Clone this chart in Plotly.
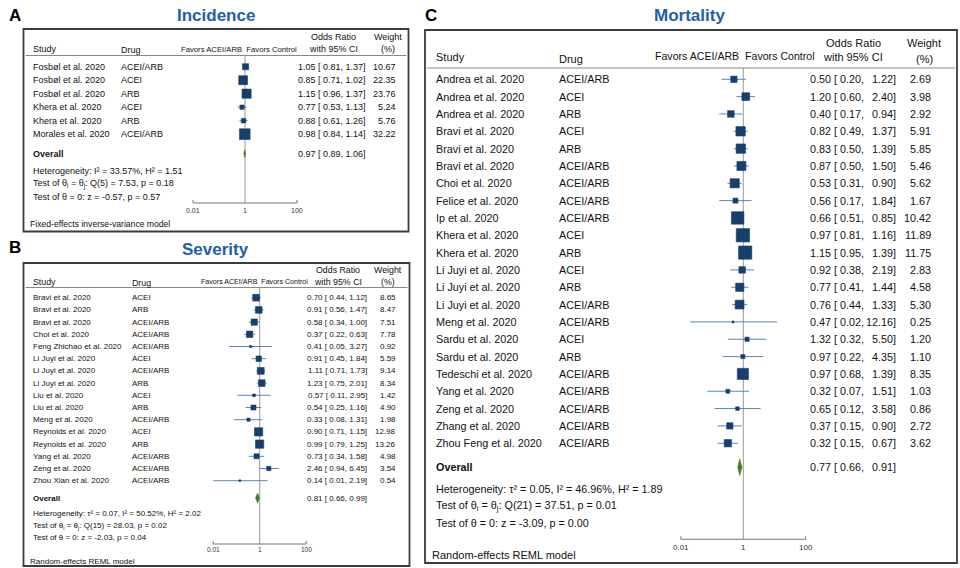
import plotly.graph_objects as go
import math

W, H = 960, 568
FONT = "Liberation Sans, Arial, Helvetica, sans-serif"

# ---------------- Data ----------------
# Panel A: Incidence
inc_study = ["Fosbøl et al. 2020", "Fosbøl et al. 2020", "Fosbøl et al. 2020",
             "Khera et al. 2020", "Khera et al. 2020", "Morales et al. 2020"]
inc_drug = ["ACEI/ARB", "ACEI", "ARB", "ACEI", "ARB", "ACEI/ARB"]
inc_or = [1.05, 0.85, 1.15, 0.77, 0.88, 0.98]
inc_lo = [0.81, 0.71, 0.96, 0.53, 0.61, 0.84]
inc_hi = [1.37, 1.02, 1.37, 1.13, 1.26, 1.14]
inc_w = [10.67, 22.35, 23.76, 5.24, 5.76, 32.22]
inc_overall = [0.97, 0.89, 1.06]
inc_stats = ["Heterogeneity: I² = 33.57%, H² = 1.51",
             "Test of θ<sub>i</sub> = θ<sub>j</sub>: Q(5) = 7.53, p = 0.18",
             "Test of θ = 0: z = -0.57, p = 0.57"]
inc_model = "Fixed-effects inverse-variance model"

# Panel B: Severity
sev_study = ["Bravi et al. 2020", "Bravi et al. 2020", "Bravi et al. 2020", "Choi et al. 2020",
             "Feng Zhichao et al. 2020", "Li Juyi et al. 2020", "Li Juyi et al. 2020",
             "Li Juyi et al. 2020", "Liu et al. 2020", "Liu et al. 2020", "Meng et al. 2020",
             "Reynolds et al. 2020", "Reynolds et al. 2020", "Yang et al. 2020",
             "Zeng et al. 2020", "Zhou Xian et al. 2020"]
sev_drug = ["ACEI", "ARB", "ACEI/ARB", "ACEI/ARB", "ACEI/ARB", "ACEI", "ACEI/ARB", "ARB",
            "ACEI", "ARB", "ACEI/ARB", "ACEI", "ARB", "ACEI/ARB", "ACEI/ARB", "ACEI/ARB"]
sev_or = [0.70, 0.91, 0.58, 0.37, 0.41, 0.91, 1.11, 1.23, 0.57, 0.54, 0.33, 0.90, 0.99, 0.73, 2.46, 0.14]
sev_lo = [0.44, 0.56, 0.34, 0.22, 0.05, 0.45, 0.71, 0.75, 0.11, 0.25, 0.08, 0.71, 0.79, 0.34, 0.94, 0.01]
sev_hi = [1.12, 1.47, 1.00, 0.63, 3.27, 1.84, 1.73, 2.01, 2.95, 1.16, 1.31, 1.15, 1.25, 1.58, 6.45, 2.19]
sev_w = [8.65, 8.47, 7.51, 7.78, 0.92, 5.59, 9.14, 8.34, 1.42, 4.90, 1.98, 12.98, 13.26, 4.98, 3.54, 0.54]
sev_overall = [0.81, 0.66, 0.99]
sev_stats = ["Heterogeneity: τ² = 0.07, I² = 50.52%, H² = 2.02",
             "Test of θ<sub>i</sub> = θ<sub>j</sub>: Q(15) = 28.03, p = 0.02",
             "Test of θ = 0: z = -2.03, p = 0.04"]
sev_model = "Random-effects REML model"

# Panel C: Mortality
mor_study = ["Andrea et al. 2020", "Andrea et al. 2020", "Andrea et al. 2020", "Bravi et al. 2020",
             "Bravi et al. 2020", "Bravi et al. 2020", "Choi et al. 2020", "Felice et al. 2020",
             "Ip et al. 2020", "Khera et al. 2020", "Khera et al. 2020", "Li Juyi et al. 2020",
             "Li Juyi et al. 2020", "Li Juyi et al. 2020", "Meng et al. 2020", "Sardu et al. 2020",
             "Sardu et al. 2020", "Tedeschi et al. 2020", "Yang et al. 2020", "Zeng et al. 2020",
             "Zhang et al. 2020", "Zhou Feng et al. 2020"]
mor_drug = ["ACEI/ARB", "ACEI", "ARB", "ACEI", "ARB", "ACEI/ARB", "ACEI/ARB", "ACEI/ARB",
            "ACEI/ARB", "ACEI", "ARB", "ACEI", "ARB", "ACEI/ARB", "ACEI/ARB", "ACEI", "ARB",
            "ACEI/ARB", "ACEI/ARB", "ACEI/ARB", "ACEI/ARB", "ACEI/ARB"]
mor_or = [0.50, 1.20, 0.40, 0.82, 0.83, 0.87, 0.53, 0.56, 0.66, 0.97, 1.15, 0.92, 0.77, 0.76,
          0.47, 1.32, 0.97, 0.97, 0.32, 0.65, 0.37, 0.32]
mor_lo = [0.20, 0.60, 0.17, 0.49, 0.50, 0.50, 0.31, 0.17, 0.51, 0.81, 0.95, 0.38, 0.41, 0.44,
          0.02, 0.32, 0.22, 0.68, 0.07, 0.12, 0.15, 0.15]
mor_hi = [1.22, 2.40, 0.94, 1.37, 1.39, 1.50, 0.90, 1.84, 0.85, 1.16, 1.39, 2.19, 1.44, 1.33,
          12.16, 5.50, 4.35, 1.39, 1.51, 3.58, 0.90, 0.67]
mor_w = [2.69, 3.98, 2.92, 5.91, 5.85, 5.46, 5.62, 1.67, 10.42, 11.89, 11.75, 2.83, 4.58, 5.30,
         0.25, 1.20, 1.10, 8.35, 1.03, 0.86, 2.72, 3.62]
mor_overall = [0.77, 0.66, 0.91]
mor_stats = ["Heterogeneity: τ² = 0.05, I² = 46.96%, H² = 1.89",
             "Test of θ<sub>i</sub> = θ<sub>j</sub>: Q(21) = 37.51, p = 0.01",
             "Test of θ = 0: z = -3.09, p = 0.00"]
mor_model = "Random-effects REML model"

axis_ticks = [0.01, 1, 100]
axis_tick_labels = ["0.01", "1", "100"]

# ---------------- Layout geometry (pixels) ----------------
geom = {
    1: dict(letter="A", title="Incidence", lx=15, ly=15, tx=215.5, ty=16,
            L=23.5, T=29, R=408.5, B=231.5, x1=245, ppd=26.0,
            row0=66.7, step=13.5, ov=153.7, stats=[170.7, 183.7, 197.0],
            axy=203.0, ticky=210.5, model=224.0, hdr_top=37.3, hdr_bot=49.3, hline=55.5,
            c_study=30.7, c_drug=119, c_ci_l=300, c_ci_r=368.3, c_w=398.3,
            c_orh=333.5, c_wh=388.3, c_fav=239, fs=9.0, fs_h=9.0, fs_fav=7.7, fs_model=8.6,
            fs_tick=7.0, msc=1.88, dia=4.0, split=False),
    2: dict(letter="B", title="Severity", lx=15, ly=247, tx=215.5, ty=249,
            L=23.5, T=263, R=409.5, B=566, x1=259.7, ppd=23.25,
            row0=297.7, step=12.2, ov=498.0, stats=[513.0, 525.7, 537.7],
            axy=544.0, ticky=549.5, model=561.0, hdr_top=270.0, hdr_bot=281.7, hline=287.5,
            c_study=30.7, c_drug=130, c_ci_l=308, c_ci_r=369.3, c_w=397.7,
            c_orh=338.3, c_wh=388.3, c_fav=254, fs=8.0, fs_h=8.8, fs_fav=7.1, fs_model=8.0,
            fs_tick=6.5, msc=2.28, dia=5.0, split=False),
    3: dict(letter="C", title="Mortality", lx=431, ly=16, tx=689.5, ty=16,
            L=425, T=30, R=957, B=563, x1=743.3, ppd=31.2,
            row0=79.3, step=17.33, ov=467.3, stats=[489.0, 505.7, 523.3],
            axy=539.3, ticky=547.7, model=555.0, hdr_top=43.3, hdr_bot=57.3, hline=68.0,
            c_study=434, c_drug=556.7, c_ci_l=808.3, c_ci_r=898.0, c_w=933.3,
            c_orh=853, c_wh=924, c_fav=734.7, fs=10.8, fs_h=11.0, fs_fav=10.6, fs_model=11.0,
            fs_tick=8.0, msc=3.86, dia=8.5, split=True),
}

SQ = "#163f6c"
CI = "#5a86b3"
DIA = "#4a7d22"
GRID = "#9a9a9a"
TITLE = "#1f5ea8"

fig = go.Figure()
annotations = []
shapes = []
layout_axes = {}


def fx(p):
    return p / W


def fy(p):
    return 1 - p / H


def text(x, y, s, size, anchor="left", bold=False, color="#111"):
    annotations.append(dict(x=fx(x), y=fy(y), xref="paper", yref="paper", text=("<b>%s</b>" % s) if bold else s,
                            showarrow=False, xanchor=anchor, yanchor="middle",
                            font=dict(family=FONT, size=size, color=color)))


def ci_text(g, yp, o, lo, hi):
    if g["split"]:
        text(g["c_ci_l"], yp, "%.2f [ %.2f," % (o, lo), g["fs"])
        text(g["c_ci_r"], yp, "%.2f]" % hi, g["fs"], anchor="right")
    else:
        text(g["c_ci_r"], yp, "%.2f [ %.2f, %.2f]" % (o, lo, hi), g["fs"], anchor="right")


def panel(idx, study, drug, ors, los, his, wts, overall, stats, model):
    g = geom[idx]
    xa = "x" if idx == 1 else "x%d" % idx
    ya = "y" if idx == 1 else "y%d" % idx
    row = lambda p: (p - g["row0"]) / g["step"]
    n = len(study)
    rows = list(range(n))
    layout_axes["xaxis" if idx == 1 else "xaxis%d" % idx] = dict(
        type="log", domain=[fx(g["L"]), fx(g["R"])],
        range=[(g["L"] - g["x1"]) / g["ppd"], (g["R"] - g["x1"]) / g["ppd"]],
        visible=False, anchor=ya, fixedrange=True)
    layout_axes["yaxis" if idx == 1 else "yaxis%d" % idx] = dict(
        domain=[fy(g["B"]), fy(g["T"])], range=[row(g["B"]), row(g["T"])],
        visible=False, anchor=xa, fixedrange=True)

    # reference line at OR = 1
    fig.add_trace(go.Scatter(x=[1, 1], y=[row(g["hline"]), row(g["axy"])], mode="lines",
                             line=dict(color=GRID, width=1), xaxis=xa, yaxis=ya,
                             hoverinfo="skip", showlegend=False))
    # axis line with end ticks
    tk = 3.0 / g["step"]
    fig.add_trace(go.Scatter(x=[axis_ticks[0], axis_ticks[0], axis_ticks[-1], axis_ticks[-1]],
                             y=[row(g["axy"]) - tk, row(g["axy"]), row(g["axy"]), row(g["axy"]) - tk],
                             mode="lines", line=dict(color="#777", width=1), xaxis=xa, yaxis=ya,
                             hoverinfo="skip", showlegend=False))
    for v, lab in zip(axis_ticks, axis_tick_labels):
        xp = g["x1"] + math.log10(v) * g["ppd"]
        text(xp, g["ticky"], lab, g["fs_tick"], anchor="center", color="#333")
    # CI lines
    cx, cy = [], []
    for i in rows:
        cx += [los[i], his[i], None]
        cy += [i, i, None]
    fig.add_trace(go.Scatter(x=cx, y=cy, mode="lines", line=dict(color=CI, width=1),
                             xaxis=xa, yaxis=ya, hoverinfo="skip", showlegend=False))
    # squares
    fig.add_trace(go.Scatter(x=ors, y=rows, mode="markers",
                             marker=dict(symbol="square", color=SQ, opacity=1,
                                         size=[max(g["msc"] * math.sqrt(w), 1.5) for w in wts],
                                         line=dict(width=0.6, color=SQ)),
                             xaxis=xa, yaxis=ya, hoverinfo="skip", showlegend=False))
    # overall diamond
    r = row(g["ov"])
    h = g["dia"] / g["step"]
    o, lo, hi = overall
    fig.add_trace(go.Scatter(x=[lo, o, hi, o, lo], y=[r, r - h, r, r + h, r], mode="lines",
                             fill="toself", fillcolor=DIA, line=dict(color=DIA, width=0.5),
                             xaxis=xa, yaxis=ya, hoverinfo="skip", showlegend=False))

    # box
    shapes.append(dict(type="rect", xref="paper", yref="paper", x0=fx(g["L"]), x1=fx(g["R"]),
                       y0=fy(g["B"]), y1=fy(g["T"]), line=dict(color="#3c3c3c", width=1.8)))
    # header line
    shapes.append(dict(type="line", xref="paper", yref="paper", x0=fx(g["L"] + 2), x1=fx(g["R"] - 2),
                       y0=fy(g["hline"]), y1=fy(g["hline"]), line=dict(color="#888", width=1)))
    # titles
    text(g["lx"], g["ly"], g["letter"], 17, anchor="center", bold=True, color="#000")
    text(g["tx"], g["ty"], g["title"], 17, anchor="center", bold=True, color=TITLE)
    # header
    text(g["c_study"], g["hdr_bot"], "Study", g["fs_h"])
    text(g["c_drug"], g["hdr_bot"] + (2 if idx == 3 else 1), "Drug", g["fs_h"])
    text(g["c_fav"], g["hdr_bot"] - (1.5 if idx == 3 else 0), "Favors ACEI/ARB  Favors Control", g["fs_fav"], anchor="center")
    text(g["c_orh"], g["hdr_top"], "Odds Ratio", g["fs_h"], anchor="center")
    text(g["c_orh"], g["hdr_bot"], "with 95% CI", g["fs_h"], anchor="center")
    text(g["c_wh"], g["hdr_top"], "Weight", g["fs_h"], anchor="center")
    text(g["c_wh"], g["hdr_bot"] + (1.5 if idx == 3 else 0), "(%)", g["fs_h"], anchor="center")
    # rows
    for i in rows:
        yp = g["row0"] + i * g["step"]
        text(g["c_study"], yp, study[i], g["fs"])
        text(g["c_drug"], yp, drug[i], g["fs"])
        ci_text(g, yp, ors[i], los[i], his[i])
        text(g["c_w"], yp, "%.2f" % wts[i], g["fs"], anchor="right")
    text(g["c_study"], g["ov"], "Overall", g["fs"], bold=True)
    ci_text(g, g["ov"], o, lo, hi)
    for s, yp in zip(stats, g["stats"]):
        text(g["c_study"], yp, s, g["fs"])
    text(g["L"] + 4.5, g["model"], model, g["fs_model"])


panel(1, inc_study, inc_drug, inc_or, inc_lo, inc_hi, inc_w, inc_overall, inc_stats, inc_model)
panel(2, sev_study, sev_drug, sev_or, sev_lo, sev_hi, sev_w, sev_overall, sev_stats, sev_model)
panel(3, mor_study, mor_drug, mor_or, mor_lo, mor_hi, mor_w, mor_overall, mor_stats, mor_model)

fig.update_layout(width=W, height=H, margin=dict(l=0, r=0, t=0, b=0, pad=0),
                  paper_bgcolor="white", plot_bgcolor="rgba(0,0,0,0)",
                  annotations=annotations, shapes=shapes, showlegend=False,
                  font=dict(family=FONT), **layout_axes)

fig.write_html("out.html", config={"displayModeBar": False},
               post_script="document.body.style.margin='0';document.body.style.padding='0';"
                           "document.body.style.overflow='hidden';")
